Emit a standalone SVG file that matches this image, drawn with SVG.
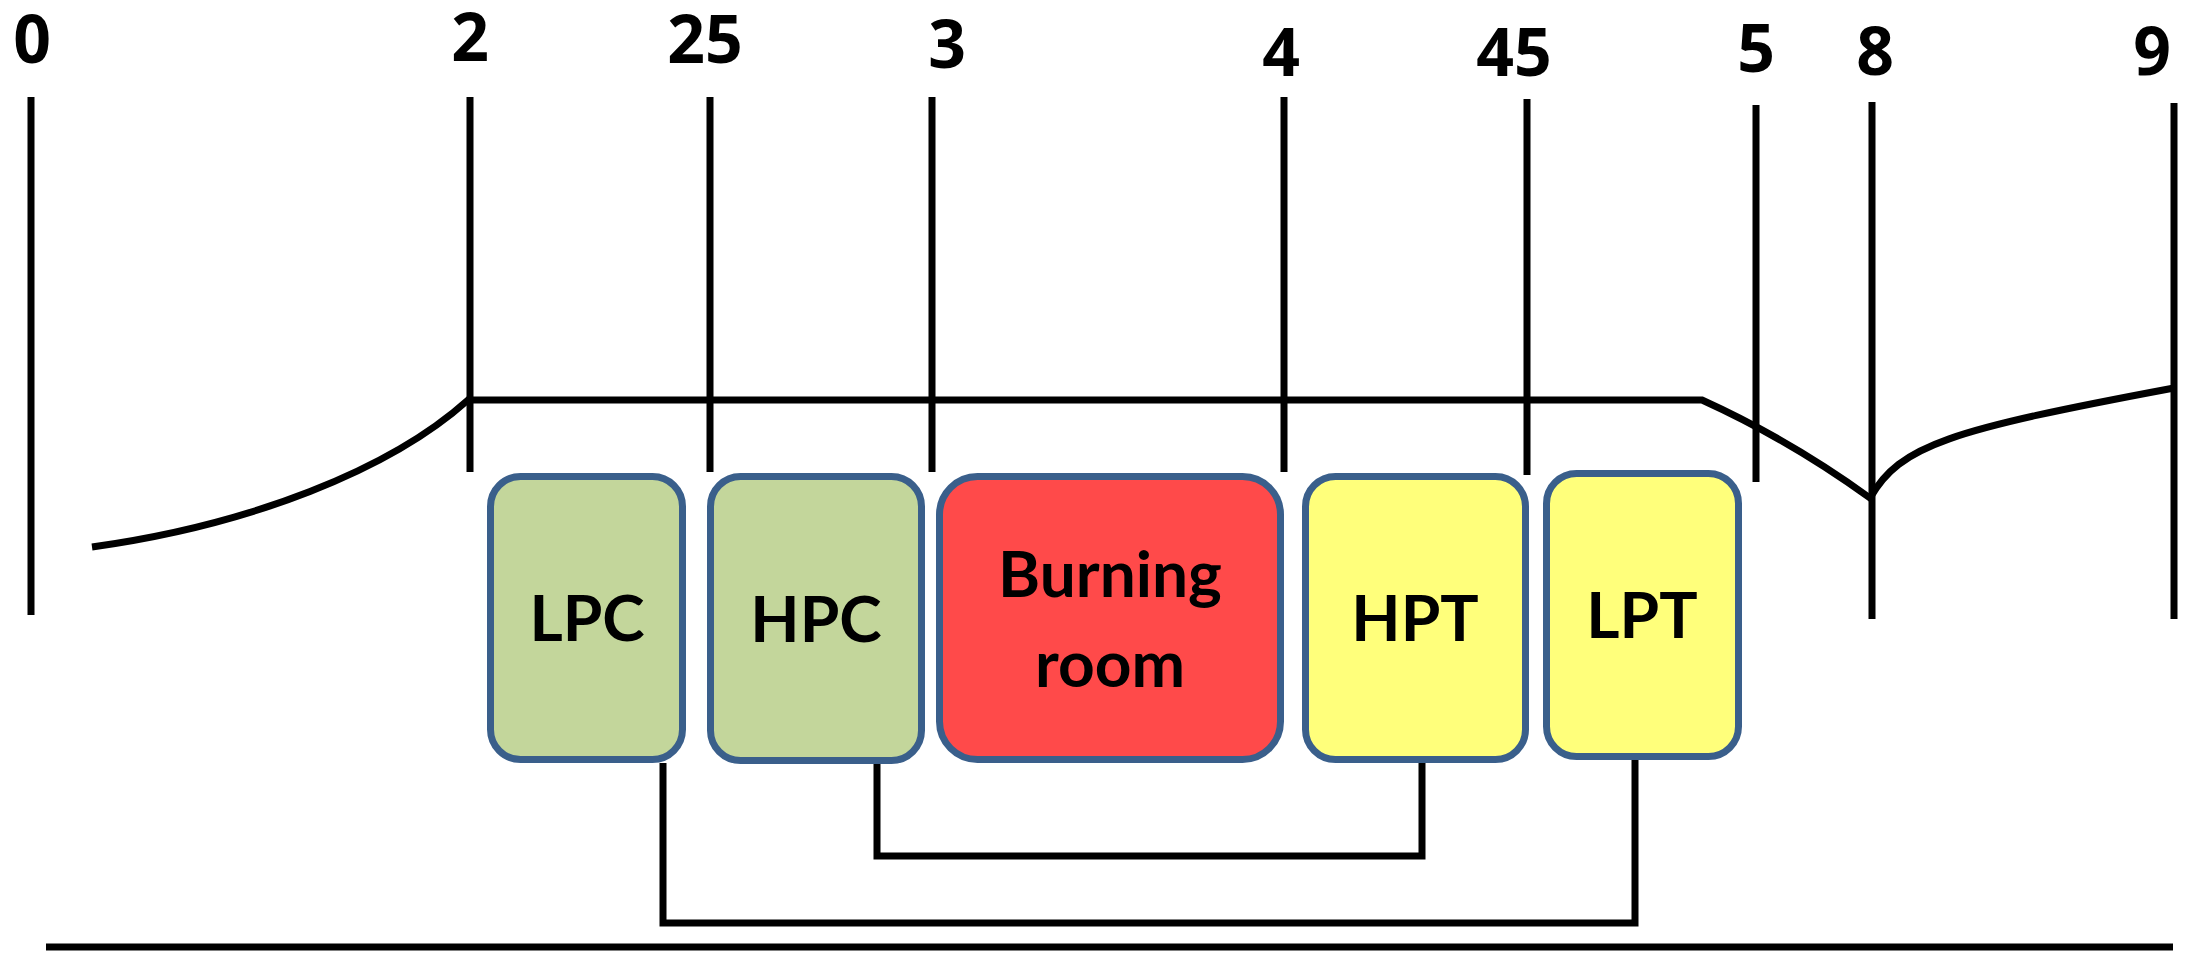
<svg xmlns="http://www.w3.org/2000/svg" width="2198" height="966" viewBox="0 0 2198 966">
<style>
.ln{stroke:#000;stroke-width:7;fill:none}
.box{stroke:#3A5F8B;stroke-width:7}
.g{fill:#C3D69B}
.r{fill:#FF4A4A}
.y{fill:#FFFF7B}
.lbl{font-family:Lato,"Open Sans","Liberation Sans",sans-serif;font-weight:bold;font-size:64px;fill:#000;text-anchor:middle}
.num{font-family:"Open Sans","Liberation Sans",sans-serif;font-weight:bold;font-size:66px;fill:#000;text-anchor:middle}
</style>
<rect width="2198" height="966" fill="#fff"/>
<g id="stations">
<line class="ln" x1="31" y1="97" x2="31" y2="615"/>
<line class="ln" x1="470" y1="97" x2="470" y2="472"/>
<line class="ln" x1="710" y1="97" x2="710" y2="472"/>
<line class="ln" x1="932" y1="97" x2="932" y2="472"/>
<line class="ln" x1="1284" y1="97" x2="1284" y2="472"/>
<line class="ln" x1="1527" y1="99" x2="1527" y2="475"/>
<line class="ln" x1="1756" y1="105" x2="1756" y2="482"/>
<line class="ln" x1="1872" y1="102" x2="1872" y2="619"/>
<line class="ln" x1="2174" y1="103" x2="2174" y2="619"/>
<text class="num" x="32" y="63">0</text>
<text class="num" x="470" y="61">2</text>
<text class="num" x="705" y="63">25</text>
<text class="num" x="947" y="68">3</text>
<text class="num" x="1281" y="76">4</text>
<text class="num" x="1514" y="76">45</text>
<text class="num" x="1756" y="72">5</text>
<text class="num" x="1875" y="75">8</text>
<text class="num" x="2152" y="75">9</text>
</g>
<g id="profile">
<path class="ln" d="M92,547 C250,525 390,470 468,400 L1702,400 Q1790,440 1870,498 C1900,445 1950,430 2174,388"/>
<line class="ln" x1="46" y1="947" x2="2173" y2="947"/>
</g>
<g id="LPC">
<rect class="box g" x="490.5" y="476.5" width="192" height="283" rx="30"/>
<text class="lbl" x="587" y="641">LPC</text>
</g>
<g id="HPC">
<rect class="box g" x="710.5" y="476.5" width="211" height="284" rx="30"/>
<text class="lbl" x="816" y="642">HPC</text>
</g>
<g id="BurningRoom">
<rect class="box r" x="939.5" y="476.5" width="341" height="283" rx="38"/>
<text class="lbl" x="1110" y="597">Burning</text>
<text class="lbl" x="1110" y="687">room</text>
</g>
<g id="HPT">
<rect class="box y" x="1305.5" y="476.5" width="220" height="283" rx="30"/>
<text class="lbl" x="1415" y="641">HPT</text>
</g>
<g id="LPT">
<rect class="box y" x="1546.5" y="473.5" width="192" height="283" rx="30"/>
<text class="lbl" x="1642" y="638">LPT</text>
</g>
<g id="connectors">
<polyline class="ln" points="663,763 663,923 1635,923 1635,760"/>
<polyline class="ln" points="877,764 877,856 1422,856 1422,763"/>
</g>
</svg>
